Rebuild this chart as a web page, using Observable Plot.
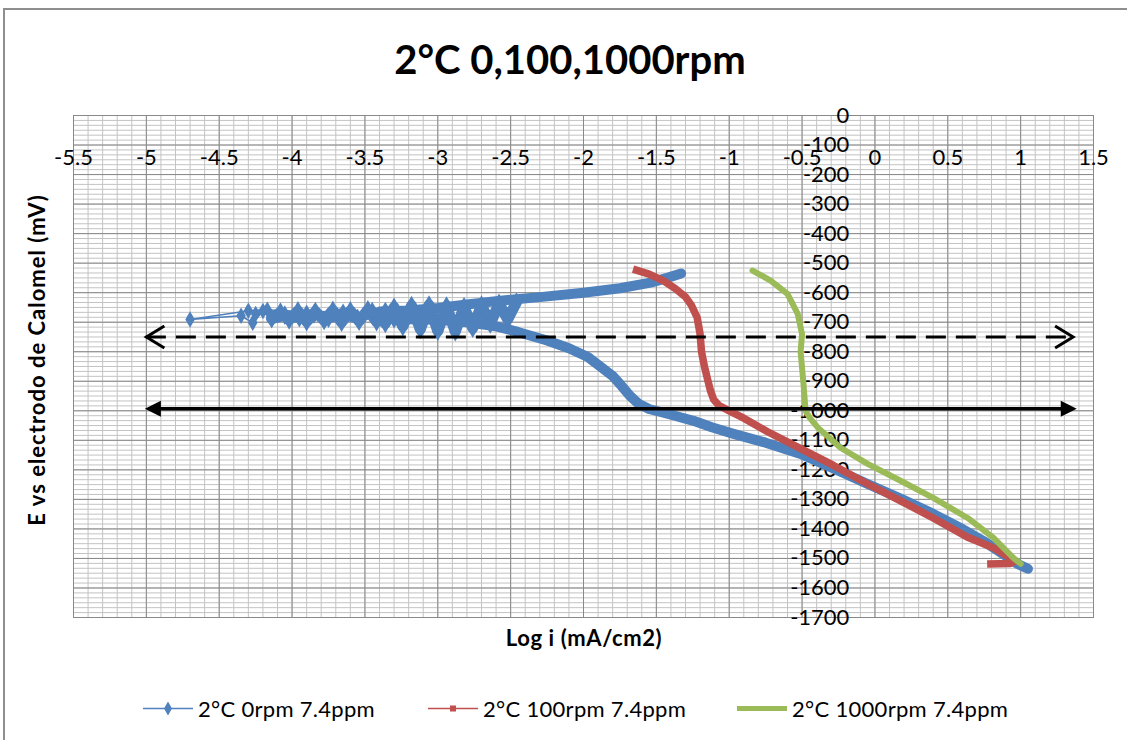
<!DOCTYPE html>
<html>
<head>
<meta charset="utf-8">
<script src="https://cdn.jsdelivr.net/npm/d3@7"></script>
<script src="https://cdn.jsdelivr.net/npm/@observablehq/plot@0.6"></script>
<style>
  body { margin: 0; background: #fff; }
  #wrap { position: relative; width: 1127px; height: 740px; overflow: hidden; font-family: Lato, "Open Sans", sans-serif; color: #000; }
  #border { position: absolute; left: 3px; top: 8px; width: 1300px; height: 900px; border-left: 2px solid #8e8e8e; border-top: 2px solid #8e8e8e; }
  #chart { position: absolute; left: 0; top: 0; }
  .title { position: absolute; left: 0; width: 1140px; top: 35px; text-align: center; font-weight: 700; font-size: 40px; line-height: 48px; }
  .ytitle { position: absolute; left: 36px; top: 360px; transform: translate(-50%, -50%) rotate(-90deg); white-space: nowrap; font-weight: 700; font-size: 22px; letter-spacing: 1px; }
  .xtitle { position: absolute; left: 584px; top: 637px; transform: translate(-50%, -50%); white-space: nowrap; font-weight: 700; font-size: 22px; letter-spacing: 0.6px; }
  .leg { position: absolute; top: 708px; transform: translateY(-50%); display: flex; align-items: center; white-space: nowrap; font-size: 22px; letter-spacing: 0.3px; }
  .leg svg { margin-right: 5px; }
</style>
</head>
<body>
<div id="wrap">
  <div id="border"></div>
  <div id="chart"></div>
  <div class="title" id="title"></div>
  <div class="ytitle" id="ytitle"></div>
  <div class="xtitle" id="xtitle"></div>
  <div id="legend"></div>
</div>
<script>
// ---------------- data ----------------
const titleText = "2°C 0,100,1000rpm";
const xTitle = "Log i (mA/cm2)";
const yTitle = "E vs electrodo de Calomel (mV)";
const seriesNames = ["2°C 0rpm 7.4ppm", "2°C 100rpm 7.4ppm", "2°C 1000rpm 7.4ppm"];
const seriesColors = ["#4F81BD", "#C0504D", "#9BBB59"];

const xTicks = [-5.5, -5, -4.5, -4, -3.5, -3, -2.5, -2, -1.5, -1, -0.5, 0, 0.5, 1, 1.5];
const xTickLabels = ["-5.5", "-5", "-4.5", "-4", "-3.5", "-3", "-2.5", "-2", "-1.5", "-1", "-0.5", "0", "0.5", "1", "1.5"];
const yTicks = [0, -100, -200, -300, -400, -500, -600, -700, -800, -900, -1000, -1100, -1200, -1300, -1400, -1500, -1600, -1700];

// 0 rpm : cathodic branch (dense), noisy region near Ecorr, anodic branch (dense)
const blueCathodic = [
  [1.05, -1535], [0.98, -1519], [0.88, -1485], [0.745, -1441], [0.58, -1395], [0.40, -1349],
  [0.18, -1298], [-0.05, -1248], [-0.28, -1196], [-0.51, -1146], [-0.75, -1108], [-0.97, -1078],
  [-1.12, -1056], [-1.245, -1034], [-1.38, -1016], [-1.47, -1004], [-1.55, -994], [-1.62, -977],
  [-1.68, -950], [-1.74, -915], [-1.80, -882], [-1.88, -852], [-1.97, -818], [-2.10, -788],
  [-2.25, -762], [-2.45, -733], [-2.60, -714], [-2.80, -700], [-3.00, -692], [-3.20, -690], [-3.30, -688]
];
const blueNoiseDense = [
  [-3.30, -688], [-3.36, -664], [-3.42, -698], [-3.48, -658], [-3.54, -696], [-3.60, -662],
  [-3.66, -700], [-3.72, -660], [-3.78, -694], [-3.84, -664], [-3.90, -698], [-3.96, -662],
  [-4.02, -692], [-4.08, -666], [-4.14, -688], [-4.05, -676], [-3.95, -684], [-3.85, -672],
  [-3.75, -686], [-3.65, -670], [-3.55, -688], [-3.45, -664], [-3.36, -704], [-3.30, -650],
  [-3.24, -714], [-3.18, -644], [-3.12, -724], [-3.06, -642], [-3.00, -730], [-2.94, -646],
  [-2.88, -732], [-2.82, -648], [-2.76, -720], [-2.70, -642], [-2.64, -706], [-2.58, -636],
  [-2.52, -690], [-2.46, -632]
];
const blueNoiseSparse = [
  [-4.14, -690], [-4.20, -662], [-4.27, -702], [-4.35, -678], [-4.70, -691], [-4.30, -661],
  [-4.17, -658], [-3.90, -668], [-4.25, -672], [-3.60, -672]
];
const blueAnodic = [
  [-3.40, -664], [-3.20, -660], [-3.00, -652], [-2.80, -640], [-2.57, -627], [-2.30, -615],
  [-2.00, -600], [-1.75, -585], [-1.54, -566], [-1.42, -549], [-1.33, -535]
];
// 100 rpm
const red = [
  [0.77, -1519], [0.93, -1517], [0.96, -1509], [0.90, -1490], [0.82, -1466], [0.70, -1441],
  [0.636, -1428], [0.40, -1363], [0.176, -1305], [-0.05, -1248], [-0.284, -1185], [-0.51, -1128],
  [-0.74, -1070], [-0.90, -1025], [-0.99, -1003], [-1.07, -982], [-1.107, -962], [-1.13, -930],
  [-1.15, -890], [-1.17, -850], [-1.19, -800], [-1.20, -740], [-1.22, -684], [-1.26, -642],
  [-1.30, -614], [-1.37, -586], [-1.45, -560], [-1.55, -537], [-1.66, -520]
];
// 1000 rpm
const green = [
  [1.00, -1518], [0.95, -1498], [0.814, -1430], [0.636, -1363], [0.40, -1295], [0.176, -1237],
  [-0.05, -1180], [-0.236, -1125], [-0.39, -1058], [-0.45, -1022], [-0.476, -1000], [-0.49, -910],
  [-0.51, -800], [-0.50, -740], [-0.53, -672], [-0.60, -604], [-0.716, -559], [-0.84, -525]
];

// drawn annotation arrows (log i from, to, E)
const dashedArrow = [{ from: -5.0, to: 1.36, e: -750 }];
const solidArrow = [{ from: -5.01, to: 1.385, e: -993 }];

// ---------------- chart ----------------
const W = 1127, H = 740;
const yAxisAt = -0.1;   // vertical axis crossing (log i)
const xAxisAt = -100;   // horizontal axis crossing (mV)

const minorX = d3.range(-55, 16).map(i => i / 10);
const minorY = d3.range(0, 103).map(i => -i * 100 / 6);

const chevronRight = { draw(c) { c.moveTo(-18, -11); c.lineTo(0, 0); c.lineTo(-18, 11); } };
const chevronLeft  = { draw(c) { c.moveTo(18, -11); c.lineTo(0, 0); c.lineTo(18, 11); } };
const triRight = { draw(c) { c.moveTo(0, 0); c.lineTo(-16, -8); c.lineTo(-16, 8); c.closePath(); } };
const triLeft  = { draw(c) { c.moveTo(0, 0); c.lineTo(16, -8); c.lineTo(16, 8); c.closePath(); } };

const px = d => d[0], py = d => d[1];
const B = seriesColors[0];

const chart = Plot.plot({
  width: W, height: H,
  marginLeft: 73, marginRight: 34, marginTop: 115, marginBottom: 123,
  x: { domain: [-5.5, 1.5], axis: null },
  y: { domain: [-1700, 0], axis: null },
  style: { fontFamily: "Lato, 'Open Sans', sans-serif", background: "transparent", overflow: "visible" },
  marks: [
    Plot.ruleX(minorX, { stroke: "#c3c3c3", strokeWidth: 1 }),
    Plot.ruleY(minorY, { stroke: "#c3c3c3", strokeWidth: 1 }),
    Plot.ruleX(xTicks, { stroke: "#898989", strokeWidth: 1 }),
    Plot.ruleY(yTicks, { stroke: "#898989", strokeWidth: 1 }),
    Plot.frame({ stroke: "#898989" }),
    // tick labels
    Plot.text(yTicks, { x: () => yAxisAt, y: d => d, text: d => String(d), textAnchor: "end", dx: -11, fontSize: 22, fill: "#000" }),
    Plot.text(xTicks, { x: d => d, y: () => xAxisAt, text: (d, i) => xTickLabels[i], dy: 13, fontSize: 22, fill: "#000" }),
    // 0 rpm
    Plot.line(blueCathodic, { x: px, y: py, stroke: B, strokeWidth: 10, strokeLinejoin: "round", strokeLinecap: "round" }),
    Plot.line(blueAnodic, { x: px, y: py, stroke: B, strokeWidth: 10, strokeLinejoin: "round", strokeLinecap: "round" }),
    Plot.line(blueNoiseSparse, { x: px, y: py, stroke: B, strokeWidth: 1.6 }),
    Plot.dot(blueNoiseSparse, { x: px, y: py, symbol: "diamond", r: 5, fill: B, stroke: "none" }),
    Plot.line(blueNoiseDense, { x: px, y: py, stroke: B, strokeWidth: 11, strokeLinejoin: "round" }),
    Plot.dot(blueNoiseDense, { x: px, y: py, symbol: "diamond", r: 6, fill: B, stroke: "none" }),
    // 100 rpm
    Plot.line(red, { x: px, y: py, stroke: seriesColors[1], strokeWidth: 7.5, strokeLinejoin: "round", strokeLinecap: "butt" }),
    // 1000 rpm
    Plot.line(green, { x: px, y: py, stroke: seriesColors[2], strokeWidth: 6, strokeLinejoin: "round", strokeLinecap: "round" }),
    // arrows
    Plot.ruleY(dashedArrow, { y: d => d.e, x1: d => d.from, x2: d => d.to, stroke: "#000", strokeWidth: 3, strokeDasharray: "20,10" }),
    Plot.dot(dashedArrow, { x: d => d.from, y: d => d.e, symbol: chevronLeft, r: 5, fill: "none", stroke: "#000", strokeWidth: 3 }),
    Plot.dot(dashedArrow, { x: d => d.to, y: d => d.e, symbol: chevronRight, r: 5, fill: "none", stroke: "#000", strokeWidth: 3 }),
    Plot.ruleY(solidArrow, { y: d => d.e, x1: d => d.from + 0.08, x2: d => d.to - 0.08, stroke: "#000", strokeWidth: 3.5 }),
    Plot.dot(solidArrow, { x: d => d.from, y: d => d.e, symbol: triLeft, r: 5, fill: "#000", stroke: "none" }),
    Plot.dot(solidArrow, { x: d => d.to, y: d => d.e, symbol: triRight, r: 5, fill: "#000", stroke: "none" })
  ]
});
document.getElementById("chart").appendChild(chart);

document.getElementById("title").textContent = titleText;
document.getElementById("xtitle").textContent = xTitle;
document.getElementById("ytitle").textContent = yTitle;

// legend
const legendX = [143, 428, 737];
const legendSymbols = ["diamond", "square", "none"];
const legendWidths = [1.5, 1.5, 5];
const legend = document.getElementById("legend");
seriesNames.forEach((name, i) => {
  const item = document.createElement("div");
  item.className = "leg";
  item.style.left = legendX[i] + "px";
  const svg = d3.create("svg").attr("width", 50).attr("height", 14);
  svg.append("line").attr("x1", 0).attr("x2", 50).attr("y1", 7).attr("y2", 7)
    .attr("stroke", seriesColors[i]).attr("stroke-width", legendWidths[i]);
  if (legendSymbols[i] !== "none") {
    const sym = legendSymbols[i] === "diamond" ? d3.symbolDiamond : d3.symbolSquare;
    svg.append("path").attr("d", d3.symbol(sym, legendSymbols[i] === "diamond" ? 55 : 36)())
      .attr("transform", "translate(25,7)").attr("fill", seriesColors[i]);
  }
  item.appendChild(svg.node());
  const t = document.createElement("span");
  t.textContent = name;
  item.appendChild(t);
  legend.appendChild(item);
});
</script>
</body>
</html>
